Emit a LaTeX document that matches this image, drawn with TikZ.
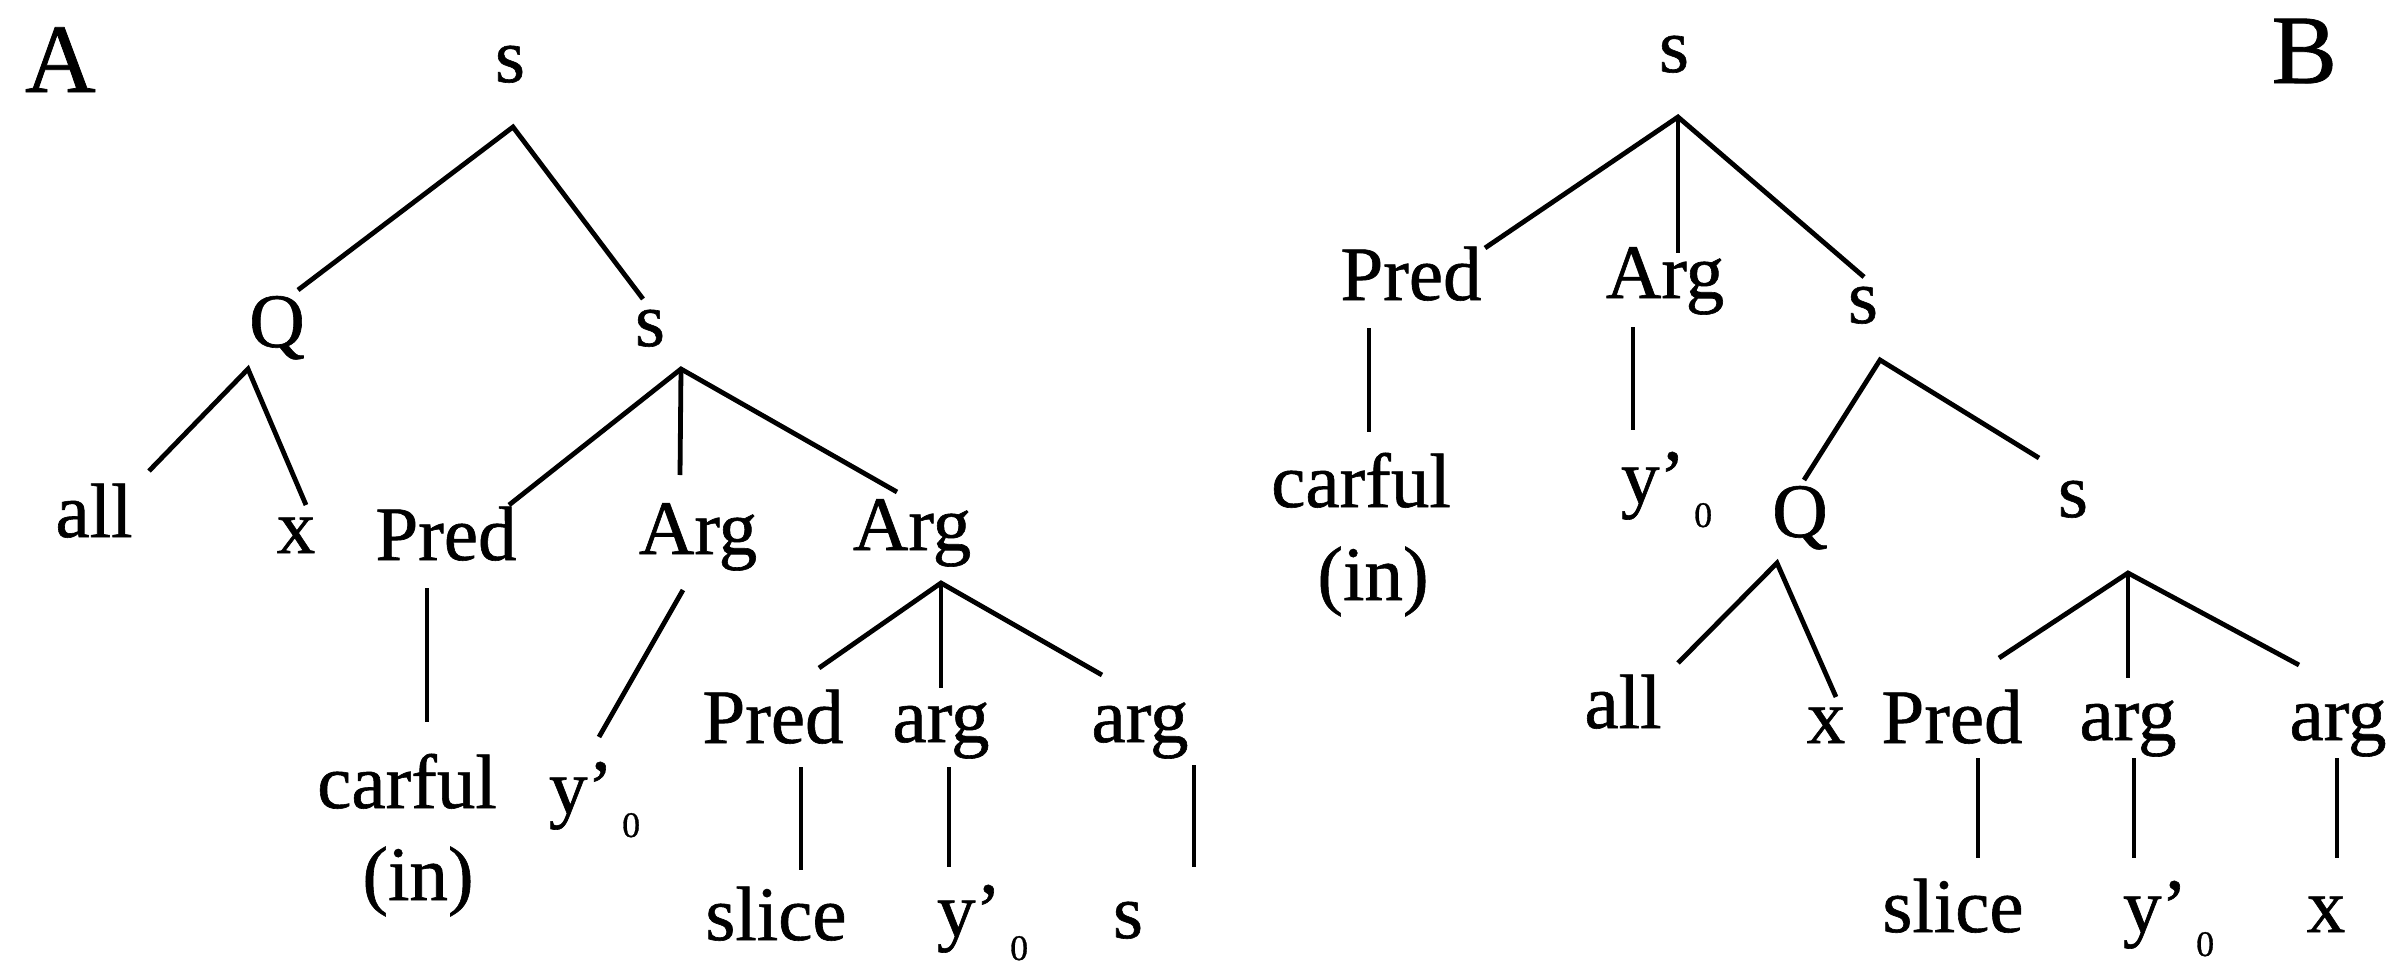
\documentclass[tikz,border=0pt]{standalone}
\usepackage{fontspec}
\setmainfont{Liberation Serif}[FakeBold=0.8]
\newcommand{\yprimezero}{y’\hspace{9pt}\raisebox{-24pt}{\fontsize{36}{36}\selectfont 0}}
\begin{document}
\begin{tikzpicture}[x=1pt,y=-1pt,
  lbl/.style={inner sep=0pt,outer sep=0pt,anchor=base,font=\fontsize{77}{80}\selectfont},
  lblw/.style={lbl,anchor=base west},
  big/.style={inner sep=0pt,outer sep=0pt,font=\fontsize{98}{100}\selectfont},
  edge/.style={line width=4.8pt}]
\useasboundingbox (0,0) rectangle (2391,969);

% ---------------- Tree A ----------------
\node[big,anchor=base west] (labA) at (25,92) {A};
\node[lbl] (sA) at (510,82) {s};
\node[lbl] (QA) at (277,347) {Q};
\node[lbl] (s2A) at (650,346) {s};
\node[lbl] (allA) at (94,537) {all};
\node[lbl] (xA) at (296,553) {x};
\node[lbl] (PredA) at (446,560) {Pred};
\node[lbl] (ArgA) at (698,554) {Arg};
\node[lbl] (ArgAA) at (912,550) {Arg};
\node[lbl] (carfulA) at (407,808) {carful};
\node[lbl] (inA) at (418,900) {(in)};
\node[lblw] (yA) at (549,813) {\yprimezero};
\node[lbl] (PredAA) at (773,743) {Pred};
\node[lbl] (argA) at (941,742) {arg};
\node[lbl] (argAA) at (1140,742) {arg};
\node[lbl] (sliceA) at (776,940) {slice};
\node[lblw] (yAA) at (937,936) {\yprimezero};
\node[lbl] (sLeafA) at (1128,938) {s};

\coordinate (sA-b) at (513,127);
\coordinate (QA-t) at (298,290);
\coordinate (s2A-t) at (643,299);
\coordinate (QA-b) at (248,369);
\coordinate (allA-t) at (149,471);
\coordinate (xA-t) at (306,505);
\coordinate (s2A-b) at (681,369);
\coordinate (PredA-t) at (509,505);
\coordinate (ArgA-t) at (680,475);
\coordinate (ArgAA-t) at (897,492);
\coordinate (PredA-b) at (427,588);
\coordinate (carfulA-t) at (427,722);
\coordinate (ArgA-b) at (683,590);
\coordinate (yA-t) at (599,737);
\coordinate (ArgAA-b) at (941,583);
\coordinate (PredAA-t) at (819,668);
\coordinate (argA-t) at (941,688);
\coordinate (argAA-t) at (1102,675);
\coordinate (PredAA-b) at (801,767);
\coordinate (sliceA-t) at (801,870);
\coordinate (argA-b) at (949,767);
\coordinate (yAA-t) at (949,867);
\coordinate (argAA-b) at (1194,765);
\coordinate (sLeafA-t) at (1194,867);

\draw[edge] (QA-t) -- (sA-b) -- (s2A-t);
\draw[edge] (allA-t) -- (QA-b) -- (xA-t);
\draw[edge] (PredA-t) -- (s2A-b) -- (ArgAA-t);
\draw[edge] (s2A-b) -- (ArgA-t);
\draw[edge] (PredA-b) -- (carfulA-t);
\draw[edge] (ArgA-b) -- (yA-t);
\draw[edge] (PredAA-t) -- (ArgAA-b) -- (argAA-t);
\draw[edge] (ArgAA-b) -- (argA-t);
\draw[edge] (PredAA-b) -- (sliceA-t);
\draw[edge] (argA-b) -- (yAA-t);
\draw[edge] (argAA-b) -- (sLeafA-t);

% ---------------- Tree B ----------------
\node[big,anchor=base east] (labB) at (2337,83) {B};
\node[lbl] (sB) at (1674,72) {s};
\node[lbl] (PredB) at (1411,300) {Pred};
\node[lbl] (ArgB) at (1665,298) {Arg};
\node[lbl] (s2B) at (1863,323) {s};
\node[lbl] (carfulB) at (1361,507) {carful};
\node[lbl] (inB) at (1373,600) {(in)};
\node[lblw] (yB) at (1621,503) {\yprimezero};
\node[lbl] (QB) at (1800,537) {Q};
\node[lbl] (s3B) at (2073,517) {s};
\node[lbl] (allB) at (1623,728) {all};
\node[lbl] (xB) at (1826,743) {x};
\node[lbl] (PredBB) at (1952,743) {Pred};
\node[lbl] (argB) at (2128,740) {arg};
\node[lbl] (argBB) at (2338,740) {arg};
\node[lbl] (sliceB) at (1953,932) {slice};
\node[lblw] (yBB) at (2123,932) {\yprimezero};
\node[lbl] (xBB) at (2326,932) {x};

\coordinate (sB-b) at (1678,117);
\coordinate (PredB-t) at (1485,248);
\coordinate (ArgB-t) at (1678,253);
\coordinate (s2B-t) at (1864,277);
\coordinate (PredB-b) at (1369,328);
\coordinate (carfulB-t) at (1369,432);
\coordinate (ArgB-b) at (1633,327);
\coordinate (yB-t) at (1633,430);
\coordinate (s2B-b) at (1880,360);
\coordinate (QB-t) at (1804,480);
\coordinate (s3B-t) at (2039,458);
\coordinate (QB-b) at (1777,563);
\coordinate (allB-t) at (1678,663);
\coordinate (xB-t) at (1836,697);
\coordinate (s3B-b) at (2128,573);
\coordinate (PredBB-t) at (1999,658);
\coordinate (argB-t) at (2128,678);
\coordinate (argBB-t) at (2299,665);
\coordinate (PredBB-b) at (1978,758);
\coordinate (sliceB-t) at (1978,858);
\coordinate (argB-b) at (2134,758);
\coordinate (yBB-t) at (2134,858);
\coordinate (argBB-b) at (2337,758);
\coordinate (xBB-t) at (2337,858);

\draw[edge] (PredB-t) -- (sB-b) -- (s2B-t);
\draw[edge] (sB-b) -- (ArgB-t);
\draw[edge] (PredB-b) -- (carfulB-t);
\draw[edge] (ArgB-b) -- (yB-t);
\draw[edge] (QB-t) -- (s2B-b) -- (s3B-t);
\draw[edge] (allB-t) -- (QB-b) -- (xB-t);
\draw[edge] (PredBB-t) -- (s3B-b) -- (argBB-t);
\draw[edge] (s3B-b) -- (argB-t);
\draw[edge] (PredBB-b) -- (sliceB-t);
\draw[edge] (argB-b) -- (yBB-t);
\draw[edge] (argBB-b) -- (xBB-t);
\end{tikzpicture}
\end{document}
